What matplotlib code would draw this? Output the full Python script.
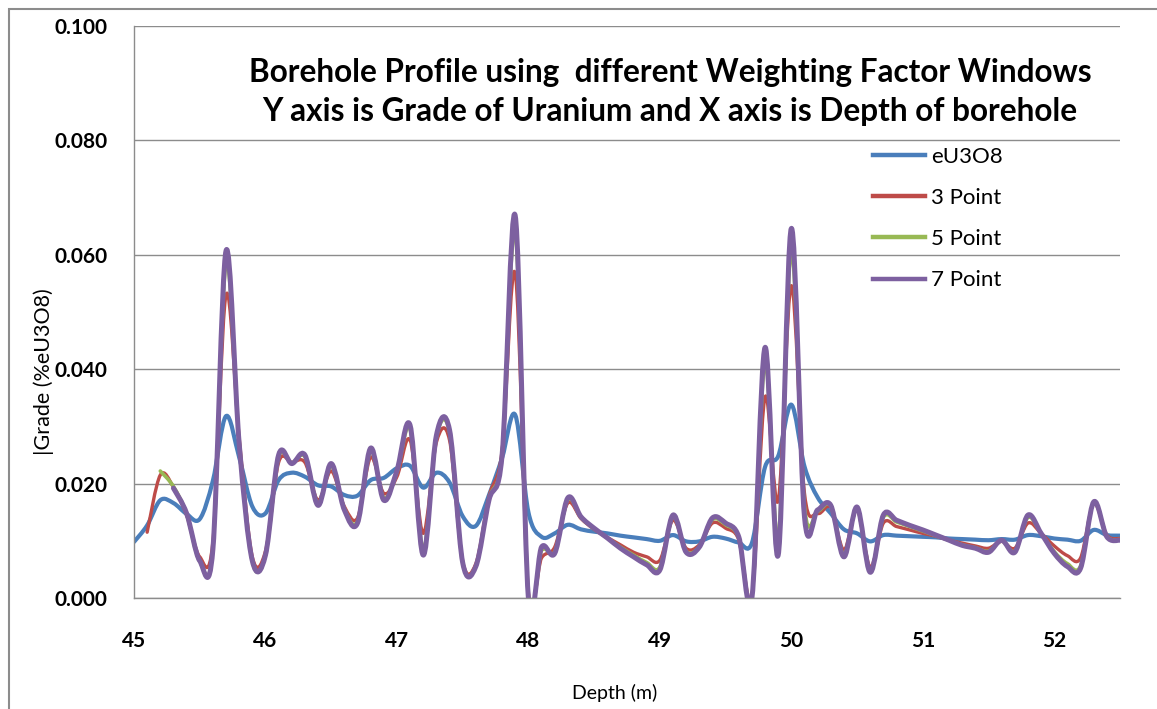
import numpy as np
import matplotlib
matplotlib.use("Agg")
import matplotlib.pyplot as plt
from matplotlib.path import Path
from matplotlib.patches import PathPatch, Rectangle
from matplotlib.lines import Line2D

nan = np.nan

depth = [45.0, 45.1, 45.2, 45.3, 45.4, 45.5, 45.6, 45.7, 45.8, 45.9,
         46.0, 46.1, 46.2, 46.3, 46.4, 46.5, 46.6, 46.7, 46.8, 46.9,
         47.0, 47.1, 47.2, 47.3, 47.4, 47.5, 47.6, 47.7, 47.8, 47.9,
         48.0, 48.1, 48.2, 48.3, 48.4, 48.5, 48.6, 48.7, 48.8, 48.9,
         49.0, 49.1, 49.2, 49.3, 49.4, 49.5, 49.6, 49.7, 49.8, 49.9,
         50.0, 50.1, 50.2, 50.3, 50.4, 50.5, 50.6, 50.7, 50.8, 50.9,
         51.0, 51.1, 51.2, 51.3, 51.4, 51.5, 51.6, 51.7, 51.8, 51.9,
         52.0, 52.1, 52.2, 52.3, 52.4, 52.5]

eu3o8 = [0.0098, 0.0127, 0.0171, 0.0166, 0.0147, 0.0138, 0.0205, 0.0318, 0.0246, 0.0160,
         0.0148, 0.0206, 0.0219, 0.0212, 0.0197, 0.0195, 0.0180, 0.0179, 0.0206, 0.0210,
         0.0227, 0.0231, 0.0193, 0.0219, 0.0202, 0.0143, 0.0126, 0.0180, 0.0245, 0.0320,
         0.0150, 0.0107, 0.0113, 0.0128, 0.0120, 0.0116, 0.0113, 0.0109, 0.0106, 0.0103,
         0.0100, 0.0110, 0.0099, 0.0099, 0.0107, 0.0104, 0.0097, 0.0096, 0.0229, 0.0248,
         0.0338, 0.0230, 0.0176, 0.0148, 0.0120, 0.0113, 0.0099, 0.0110, 0.0109, 0.0108,
         0.0107, 0.0106, 0.0104, 0.0103, 0.0102, 0.0101, 0.0103, 0.0102, 0.0110, 0.0108,
         0.0104, 0.0102, 0.0100, 0.0119, 0.0110, 0.0109]

point3 = [nan, 0.0115, 0.0215, 0.0194, 0.0145, 0.0072, 0.0098, 0.0530, 0.0280, 0.0072,
          0.0082, 0.0237, 0.0237, 0.0237, 0.0171, 0.0222, 0.0160, 0.0140, 0.0246, 0.0183,
          0.0212, 0.0276, 0.0113, 0.0272, 0.0276, 0.0064, 0.0060, 0.0177, 0.0258, 0.0567,
          0.0010, 0.0070, 0.0089, 0.0166, 0.0139, 0.0120, 0.0106, 0.0093, 0.0080, 0.0072,
          0.0066, 0.0136, 0.0087, 0.0093, 0.0131, 0.0122, 0.0102, 0.0005, 0.0351, 0.0170,
          0.0546, 0.0183, 0.0148, 0.0158, 0.0084, 0.0154, 0.0054, 0.0131, 0.0125, 0.0119,
          0.0113, 0.0108, 0.0101, 0.0096, 0.0091, 0.0087, 0.0099, 0.0087, 0.0131, 0.0113,
          0.0091, 0.0074, 0.0070, 0.0165, 0.0110, 0.0104]

point5 = [nan, nan, 0.0222, 0.0195, 0.0147, 0.0064, 0.0086, 0.0585, 0.0273, 0.0064,
          0.0075, 0.0246, 0.0236, 0.0247, 0.0165, 0.0231, 0.0156, 0.0134, 0.0257, 0.0175,
          0.0220, 0.0295, 0.0085, 0.0281, 0.0290, 0.0062, 0.0056, 0.0173, 0.0252, 0.0640,
          0.0003, 0.0083, 0.0081, 0.0172, 0.0141, 0.0121, 0.0105, 0.0089, 0.0075, 0.0062,
          0.0054, 0.0142, 0.0082, 0.0090, 0.0137, 0.0128, 0.0105, 0.0002, 0.0412, 0.0105,
          0.0607, 0.0160, 0.0152, 0.0161, 0.0076, 0.0157, 0.0048, 0.0141, 0.0133, 0.0125,
          0.0117, 0.0109, 0.0101, 0.0093, 0.0088, 0.0082, 0.0100, 0.0082, 0.0141, 0.0113,
          0.0081, 0.0060, 0.0056, 0.0167, 0.0108, 0.0102]

point7 = [nan, nan, nan, 0.0192, 0.0148, 0.0065, 0.0085, 0.0607, 0.0270, 0.0065,
          0.0075, 0.0250, 0.0235, 0.0250, 0.0162, 0.0235, 0.0154, 0.0131, 0.0262, 0.0171,
          0.0223, 0.0302, 0.0075, 0.0284, 0.0294, 0.0062, 0.0055, 0.0171, 0.0250, 0.0668,
          0.0000, 0.0089, 0.0078, 0.0175, 0.0142, 0.0122, 0.0105, 0.0087, 0.0072, 0.0058,
          0.0049, 0.0145, 0.0080, 0.0089, 0.0140, 0.0131, 0.0107, 0.0000, 0.0438, 0.0075,
          0.0646, 0.0142, 0.0154, 0.0162, 0.0072, 0.0159, 0.0045, 0.0145, 0.0136, 0.0127,
          0.0119, 0.0110, 0.0101, 0.0092, 0.0087, 0.0080, 0.0101, 0.0080, 0.0145, 0.0113,
          0.0078, 0.0055, 0.0052, 0.0168, 0.0107, 0.0101]

series_names = ["eU3O8", "3 Point", "5 Point", "7 Point"]
series_colors = ["#4A7EBB", "#BE4B48", "#98B954", "#7D60A0"]
series_widths = [3.0, 2.4, 2.6, 3.6]

FONT = "Lato"


def smooth_path(x, y):
    # Excel-style smoothed line: cubic bezier through the points
    x = np.asarray(x, float)
    y = np.asarray(y, float)
    ok = ~np.isnan(y)
    p = np.column_stack([x[ok], y[ok]])
    n = len(p)
    verts = [p[0]]
    codes = [Path.MOVETO]
    for i in range(n - 1):
        prev = p[i - 1] if i > 0 else p[i]
        nxt = p[i + 2] if i + 2 < n else p[i + 1]
        c1 = p[i] + (p[i + 1] - prev) / 6.0
        c2 = p[i + 1] - (nxt - p[i]) / 6.0
        verts += [c1, c2, p[i + 1]]
        codes += [Path.CURVE4] * 3
    return Path(verts, codes)


fig = plt.figure(figsize=(11.57, 7.09), dpi=100)
ax = fig.add_axes([134 / 1157, 1 - 598 / 709, (1120 - 134) / 1157, (598 - 26) / 709])

for vals, name, col, lw in zip([eu3o8, point3, point5, point7], series_names,
                               series_colors, series_widths):
    patch = PathPatch(smooth_path(depth, vals), fill=False, edgecolor=col, lw=lw,
                      capstyle="round", joinstyle="round")
    ax.add_patch(patch)

ax.set_xlim(45, 52.5)
ax.set_ylim(0, 0.1)
ax.set_xticks(range(45, 53))
ax.set_yticks([0.0, 0.02, 0.04, 0.06, 0.08, 0.1])
ax.set_yticklabels(["%.3f" % v for v in [0.0, 0.02, 0.04, 0.06, 0.08, 0.1]])
ax.grid(axis="y", color="#8C8C8C", lw=1.0)
ax.set_axisbelow(True)
for s in ["top", "right"]:
    ax.spines[s].set_visible(False)
for s in ["left", "bottom"]:
    ax.spines[s].set_color("#8C8C8C")
    ax.spines[s].set_linewidth(1.0)
ax.tick_params(length=0)
ax.tick_params(axis="y", pad=19)
ax.tick_params(axis="x", pad=24)
for lab in ax.get_xticklabels() + ax.get_yticklabels():
    lab.set_fontfamily(FONT)
    lab.set_fontweight("bold")
    lab.set_fontsize(15)

ax.set_xlabel("Depth (m)", fontfamily=FONT, fontsize=14)
ax.xaxis.set_label_coords((615 - 134) / 986, (598 - 684) / 572)
ax.set_ylabel("|Grade (%eU3O8)", fontfamily=FONT, fontsize=15.5)
ax.yaxis.set_label_coords((54 - 134) / 986, (598 - 372) / 572)

fig.text(670 / 1157, 1 - 92 / 709,
         "Borehole Profile using  different Weighting Factor Windows\n"
         "Y axis is Grade of Uranium and X axis is Depth of borehole",
         ha="center", va="center", fontfamily=FONT, fontweight="bold",
         fontsize=22.7, linespacing=1.45)

handles = [Line2D([], [], color=c, lw=3.2) for c in series_colors]
fig.legend(handles, series_names, loc="upper left",
           bbox_to_anchor=(873 / 1157, 1 - 147 / 709), frameon=False,
           prop={"family": FONT, "size": 16}, handlelength=2.35,
           handletextpad=0.25, labelspacing=0.95, borderpad=0, borderaxespad=0)

fig.add_artist(Rectangle((9 / 1157, -0.1), 1.2, 1 - 9 / 709 + 0.1,
                         transform=fig.transFigure, fill=False,
                         edgecolor="#8C8C8C", lw=1.5))

fig.savefig("out.png", dpi=100)
